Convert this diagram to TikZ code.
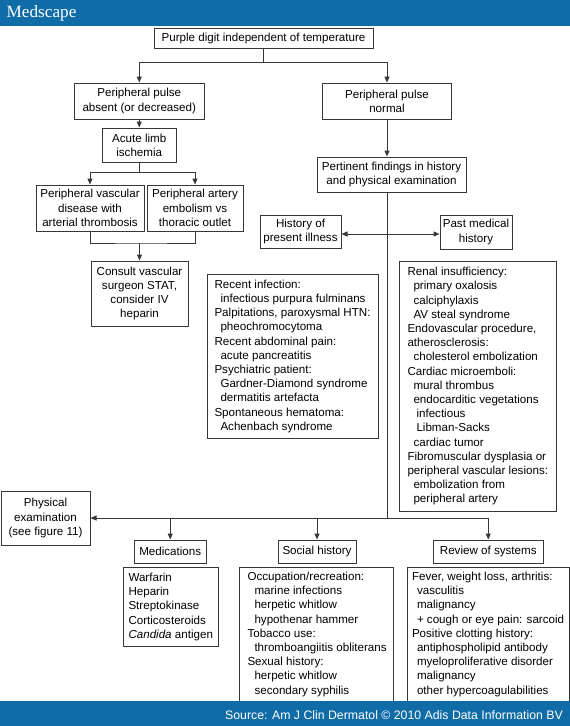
\documentclass[tikz,border=0pt]{standalone}
\usepackage{fontspec}
\setmainfont{Liberation Sans}
\newfontfamily\logofont{Liberation Serif}
\usetikzlibrary{arrows.meta}
\definecolor{msblue}{RGB}{16,108,166}
\definecolor{lc}{RGB}{55,55,55}
\begin{document}
\begin{tikzpicture}[x=1pt,y=-1pt,
  hdr/.style={draw=lc,line width=1pt,inner sep=0pt,align=center,font=\fontsize{11.6}{14.2}\selectfont},
  lst/.style={draw=lc,line width=1pt,inner sep=0pt,anchor=north west,align=flush left,font=\fontsize{11.6}{14.2}\selectfont},
  ln/.style={draw=lc,line width=1pt},
  arr/.style={ln,-{Triangle[length=6pt,width=5pt]}},
  darr/.style={ln,{Triangle[length=6pt,width=5pt]}-{Triangle[length=6pt,width=5pt]}}]
\useasboundingbox (0,0) rectangle (570,726);
% header boxes
\node[hdr,minimum width=219pt,minimum height=20pt] (top) at (263.5,38) {Purple digit independent of temperature};
\node[hdr,minimum width=129.5pt,minimum height=36pt] (absent) at (139.25,101) {Peripheral pulse\\absent (or decreased)};
\node[hdr,minimum width=129pt,minimum height=36pt] (normal) at (387,101) {Peripheral pulse\\normal};
\node[hdr,minimum width=74pt,minimum height=34pt] (acute) at (139.25,145) {Acute limb\\ischemia};
\node[hdr,minimum width=108pt,minimum height=46pt] (pvd) at (90,208) {Peripheral vascular\\disease with\\arterial thrombosis};
\node[hdr,minimum width=96pt,minimum height=46pt] (pae) at (195,208) {Peripheral artery\\embolism vs\\thoracic outlet};
\node[hdr,minimum width=97pt,minimum height=65pt] (consult) at (139.5,293.5) {Consult vascular\\surgeon STAT,\\consider IV\\heparin};
\node[hdr,minimum width=149pt,minimum height=35pt] (pert) at (391.5,174.5) {Pertinent findings in history\\and physical examination};
\node[hdr,minimum width=81pt,minimum height=33pt] (hpi) at (300.5,231.5) {History of\\present illness};
\node[hdr,minimum width=72pt,minimum height=34pt] (pmh) at (476,232) {Past medical\\history};
\node[hdr,minimum width=89pt,minimum height=54pt] (phys) at (45.5,518) {Physical\\examination\\(see figure 11)};
\node[hdr,minimum width=71.5pt,minimum height=23pt] (meds) at (170.25,551.5) {Medications};
\node[hdr,minimum width=78pt,minimum height=23pt] (social) at (317,551.5) {Social history};
\node[hdr,minimum width=109.5pt,minimum height=23pt] (ros) at (488.25,551.5) {Review of systems};
% list boxes
\node[lst,text width=171pt,minimum height=164pt] (hpil) at (207,274) {\leftskip=7pt\relax\strut Recent infection:\\
\hspace*{6pt}infectious purpura fulminans\\
Palpitations, paroxysmal HTN:\\
\hspace*{6pt}pheochromocytoma\\
Recent abdominal pain:\\
\hspace*{6pt}acute pancreatitis\\
Psychiatric patient:\\
\hspace*{6pt}Gardner-Diamond syndrome\\
\hspace*{6pt}dermatitis artefacta\\
Spontaneous hematoma:\\
\hspace*{6pt}Achenbach syndrome\strut\par};
\node[lst,text width=157pt,minimum height=250pt] (pmhl) at (399,261) {\leftskip=8pt\relax\strut Renal insufficiency:\\
\hspace*{6pt}primary oxalosis\\
\hspace*{6pt}calciphylaxis\\
\hspace*{6pt}AV steal syndrome\\
Endovascular procedure,\\
atherosclerosis:\\
\hspace*{6pt}cholesterol embolization\\
Cardiac microemboli:\\
\hspace*{6pt}mural thrombus\\
\hspace*{6pt}endocarditic vegetations\\
\hspace*{9pt}infectious\\
\hspace*{9pt}Libman-Sacks\\
\hspace*{6pt}cardiac tumor\\
Fibromuscular dysplasia or\\
peripheral vascular lesions:\\
\hspace*{6pt}embolization from\\
\hspace*{6pt}peripheral artery\strut\par};
\node[lst,text width=95pt,minimum height=79pt] (medsl) at (123,567) {\leftskip=5pt\relax\strut Warfarin\\
Heparin\\
Streptokinase\\
Corticosteroids\\
\textit{Candida} antigen\strut\par};
\node[lst,text width=154pt,minimum height=134pt] (sociall) at (239,567) {\leftskip=8pt\relax\strut Occupation/recreation:\\
\hspace*{7pt}marine infections\\
\hspace*{7pt}herpetic whitlow\\
\hspace*{7pt}hypothenar hammer\\
Tobacco use:\\
\hspace*{7pt}\mbox{thromboangiitis obliterans}\\
Sexual history:\\
\hspace*{7pt}herpetic whitlow\\
\hspace*{7pt}secondary syphilis\strut\par};
\node[lst,text width=162pt,minimum height=134pt] (rosl) at (406.5,567) {\leftskip=5pt\relax\strut \mbox{Fever, weight loss, arthritis:}\\
\hspace*{5pt}vasculitis\\
\hspace*{5pt}malignancy\\
\hspace*{5pt}\mbox{+ cough or eye pain: sarcoid}\\
Positive clotting history:\\
\hspace*{5pt}antiphospholipid antibody\\
\hspace*{5pt}\mbox{myeloproliferative disorder}\\
\hspace*{5pt}malignancy\\
\hspace*{5pt}other hypercoagulabilities\strut\par};
% connectors
\coordinate (j1) at (263.5,62);
\draw[ln] (top.south) -- (j1);
\draw[arr] (j1) -| (absent.north);
\draw[arr] (j1) -| (normal.north);
\draw[arr] (absent.south) -- (acute.north);
\coordinate (j2) at (139.25,172);
\draw[ln] (acute.south) -- (j2);
\draw[arr] (j2) -| (pvd.north);
\draw[arr] (j2) -| (pae.north);
\coordinate (j3) at (139.5,243);
\draw[ln] (pvd.south) |- (j3) -| (pae.south);
\draw[arr] (j3) -- (consult.north);
\draw[arr] (normal.south) -- (normal.south |- pert.north);
\coordinate (j5) at (387,518);
\draw[ln] (normal.south |- pert.south) -- (j5);
\path (hpi.east) ++(0,2.5) coordinate (ha);
\draw[darr] (ha) -- (pmh.west |- ha);
\draw[arr] (j5) -- (phys.east);
\draw[ln] (j5) -- (ros.north |- j5);
\draw[arr] (meds.north |- j5) -- (meds.north);
\draw[arr] (social.north |- j5) -- (social.north);
\draw[arr] (ros.north |- j5) -- (ros.north);
% banners
\fill[msblue] (0,0) rectangle (570,26);
\fill[msblue] (0,700.5) rectangle (570,726);
\node[anchor=base west,text=white,font=\logofont\fontsize{17.2}{20}\selectfont,inner sep=0pt] (logo) at (6.5,17.5) {Medscape};
\node[anchor=base east,text=white,font=\fontsize{12.3}{14}\selectfont,inner sep=0pt] (src) at (563,719) {Source: Am J Clin Dermatol © 2010 Adis Data Information BV};
\end{tikzpicture}
\end{document}
